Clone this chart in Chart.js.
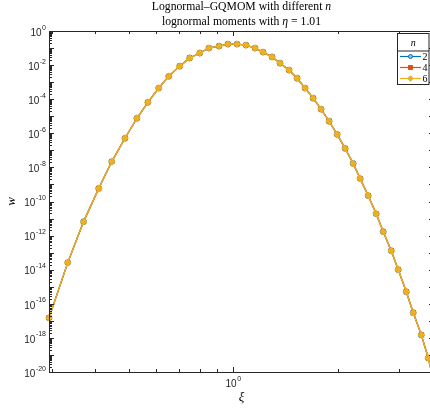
<!DOCTYPE html>
<html>
<head>
<meta charset="utf-8">
<script src="https://cdn.jsdelivr.net/npm/chart.js@4"></script>
<style>
  html, body { margin: 0; padding: 0; background: #fff; overflow: hidden; }
  canvas { display: block; }
</style>
</head>
<body>
<canvas id="chart" width="440" height="408"></canvas>
<script>
// Lognormal-GQMOM weights, log-log plot (MATLAB style)
const xi = [0.295, 0.334, 0.371, 0.410, 0.447, 0.488, 0.528, 0.568, 0.610, 0.652,
            0.701, 0.749, 0.801, 0.851, 0.910, 0.965, 1.025, 1.088, 1.155, 1.218,
            1.293, 1.363, 1.447, 1.526, 1.609, 1.697, 1.789, 1.887, 1.990, 2.098,
            2.213, 2.318, 2.444, 2.578, 2.701, 2.848, 2.983, 3.146, 3.295, 3.475,
            3.639, 3.78];
const w_n6 = [1.5e-17, 2.6e-14, 6.6e-12, 5.8e-10, 2.2e-8, 5.1e-7, 7.6e-6, 6.6e-5, 4.5e-4, 2.2e-3,
              8.7e-3, 0.026, 0.051, 0.10, 0.13, 0.17, 0.17, 0.15, 0.10, 0.058,
              0.030, 0.013, 5.1e-3, 1.7e-3, 4.5e-4, 1.15e-4, 2.6e-5, 5.1e-6, 8.7e-7, 1.3e-7,
              1.7e-8, 2.2e-9, 2.2e-10, 1.9e-11, 1.7e-12, 1.3e-13, 1.0e-14, 5.1e-16, 3.0e-17, 1.5e-18,
              6.6e-20, 2.5e-21];
// n = 2 and n = 4 lie exactly under n = 6 in the picture
const w_n2 = w_n6;
const w_n4 = w_n6;

const seriesNames = ["2", "4", "6"];
const xMajorTicks = [1];
const xMinorTicks = [0.3, 0.4, 0.5, 0.6, 0.7, 0.8, 0.9, 2, 3];
const yLabelExps = [0, -2, -4, -6, -8, -10, -12, -14, -16, -18, -20];

const AXIS = "#262626";
const BLUE = "#0072BD", RED = "#D95319", YELLOW = "#EDB120";

const pts = (ys) => xi.map((x, i) => ({ x: x, y: ys[i] }));

// text with italic parts, centered on cx
function drawRich(ctx, parts, cx, y, size) {
    const fontOf = (p) => (p.it ? "italic " : "") + size + "px 'Liberation Serif', serif";
    let total = 0;
    parts.forEach(p => { ctx.font = fontOf(p); total += ctx.measureText(p.t).width; });
    let x = cx - total / 2;
    ctx.textAlign = "left";
    parts.forEach(p => {
        ctx.font = fontOf(p);
        ctx.fillText(p.t, x, y);
        x += ctx.measureText(p.t).width;
    });
}

// "10" with a raised exponent; anchor: 'right' or 'center'
function drawPow(ctx, exp, x, y, anchor) {
    const base = "10", sup = String(exp);
    ctx.font = "10px 'Liberation Sans', Arial, sans-serif";
    const bw = ctx.measureText(base).width;
    ctx.font = "7px 'Liberation Sans', Arial, sans-serif";
    const sw = ctx.measureText(sup).width;
    const total = bw + sw + 0.5;
    let x0 = anchor === "right" ? x - total : x - total / 2;
    ctx.textAlign = "left";
    ctx.textBaseline = "alphabetic";
    ctx.font = "10px 'Liberation Sans', Arial, sans-serif";
    ctx.fillText(base, x0, y + 7.2);
    ctx.font = "7px 'Liberation Sans', Arial, sans-serif";
    ctx.fillText(sup, x0 + bw + 0.5, y + 1);
}

function drawMarker(ctx, style, x, y, r, fill, stroke) {
    ctx.fillStyle = fill;
    ctx.strokeStyle = stroke;
    ctx.lineWidth = 1;
    ctx.beginPath();
    if (style === "circle") ctx.arc(x, y, r, 0, Math.PI * 2);
    else if (style === "rect") ctx.rect(x - r, y - r, 2 * r, 2 * r);
    else { ctx.moveTo(x, y - r); ctx.lineTo(x + r, y); ctx.lineTo(x, y + r); ctx.lineTo(x - r, y); ctx.closePath(); }
    ctx.fill();
    ctx.stroke();
}

const matlabAxes = {
    id: "matlabAxes",
    afterDatasetsDraw(chart) {
        const ctx = chart.ctx;
        const { left, right, top, bottom } = chart.chartArea;
        const sx = chart.scales.x, sy = chart.scales.y;
        ctx.save();

        // box
        ctx.strokeStyle = AXIS;
        ctx.lineWidth = 1;
        ctx.strokeRect(left + 0.5, top + 0.5, right - left, bottom - top);

        // ticks, pointing inward
        ctx.beginPath();
        const xt = (v, len) => {
            const p = Math.round(sx.getPixelForValue(v)) + 0.5;
            ctx.moveTo(p, bottom); ctx.lineTo(p, bottom - len);
            ctx.moveTo(p, top); ctx.lineTo(p, top + len);
        };
        xMajorTicks.forEach(v => xt(v, 5));
        xMinorTicks.forEach(v => xt(v, 3));
        for (let d = -20; d <= 0; d++) {
            const p = Math.round(sy.getPixelForValue(Math.pow(10, d))) + 0.5;
            ctx.moveTo(left, p); ctx.lineTo(left + 5, p);
            ctx.moveTo(right, p); ctx.lineTo(right - 5, p);
            if (d === 0) continue;
            for (let k = 2; k <= 9; k++) {
                const q = Math.round(sy.getPixelForValue(k * Math.pow(10, d))) + 0.5;
                ctx.moveTo(left, q); ctx.lineTo(left + 3, q);
                ctx.moveTo(right, q); ctx.lineTo(right - 3, q);
            }
        }
        ctx.stroke();

        // tick labels
        ctx.fillStyle = AXIS;
        yLabelExps.forEach(e => drawPow(ctx, e, left - 3, sy.getPixelForValue(Math.pow(10, e)) - 2.5, "right"));
        xMajorTicks.forEach(v => drawPow(ctx, 0, sx.getPixelForValue(v), bottom + 8, "center"));

        // axis labels and title
        const cx = (left + right) / 2;
        ctx.fillStyle = "#000";
        ctx.textBaseline = "alphabetic";
        drawRich(ctx, [{ t: "ξ", it: true }], cx, 401, 13);
        ctx.save();
        ctx.translate(15, (top + bottom) / 2);
        ctx.rotate(-Math.PI / 2);
        drawRich(ctx, [{ t: "w", it: true }], 0, 0, 13);
        ctx.restore();
        drawRich(ctx, [{ t: "Lognormal–GQMOM with different " }, { t: "n", it: true }], cx, 10, 11.7);
        drawRich(ctx, [{ t: "lognormal moments with " }, { t: "η", it: true }, { t: " = 1.01" }], cx, 24.5, 11.7);

        // legend box
        const lx = 397.5, ly = 33.5, lw = 31.5, lh = 51;
        ctx.fillStyle = "#fff";
        ctx.fillRect(lx, ly, lw, lh);
        ctx.strokeStyle = AXIS;
        ctx.lineWidth = 1;
        ctx.strokeRect(lx, ly, lw, lh);
        ctx.beginPath();
        ctx.moveTo(lx, ly + 17.5); ctx.lineTo(lx + lw, ly + 17.5);
        ctx.stroke();
        ctx.fillStyle = "#000";
        drawRich(ctx, [{ t: "n", it: true }], lx + lw / 2, ly + 12, 10);
        const legendRows = [
            { c: BLUE, m: "circle", f: "#8cc0e6" },
            { c: RED, m: "rect", f: RED },
            { c: YELLOW, m: "diamond", f: YELLOW }
        ];
        legendRows.forEach((r, i) => {
            const y = 56.5 + i * 11;
            ctx.strokeStyle = r.c;
            ctx.lineWidth = 1.2;
            ctx.beginPath();
            ctx.moveTo(400, y); ctx.lineTo(421, y);
            ctx.stroke();
            drawMarker(ctx, r.m, 410.5, y, r.m === "diamond" ? 2.8 : 2, r.f, r.c);
            ctx.fillStyle = "#000";
            ctx.font = "10px 'Liberation Serif', serif";
            ctx.textAlign = "left";
            ctx.fillText(seriesNames[i], 422.5, y + 3.5);
        });
        ctx.restore();
    }
};

const clipBox = { left: 5, top: 5, right: 0, bottom: 0 };

new Chart(document.getElementById("chart"), {
    type: "line",
    data: {
        datasets: [
            { label: seriesNames[0], data: pts(w_n2), borderColor: BLUE, backgroundColor: BLUE,
              pointStyle: "circle", pointRadius: 2.5, borderWidth: 1.3, order: 3, clip: clipBox },
            { label: seriesNames[1], data: pts(w_n4), borderColor: RED, backgroundColor: RED,
              pointStyle: "rect", pointRadius: 2.5, borderWidth: 1.3, order: 2, clip: clipBox },
            { label: seriesNames[2], data: pts(w_n6), borderColor: YELLOW, backgroundColor: YELLOW,
              pointStyle: "rectRot", pointRadius: 3, borderWidth: 1.3, order: 1, clip: clipBox }
        ]
    },
    options: {
        responsive: false,
        animation: false,
        layout: { padding: { left: 49, top: 31, right: 6, bottom: 36 } },
        scales: {
            x: { type: "logarithmic", min: 0.295, max: 3.78, display: false },
            y: { type: "logarithmic", min: 1e-20, max: 1, display: false }
        },
        plugins: { legend: { display: false }, tooltip: { enabled: false } }
    },
    plugins: [matlabAxes]
});
</script>
</body>
</html>
